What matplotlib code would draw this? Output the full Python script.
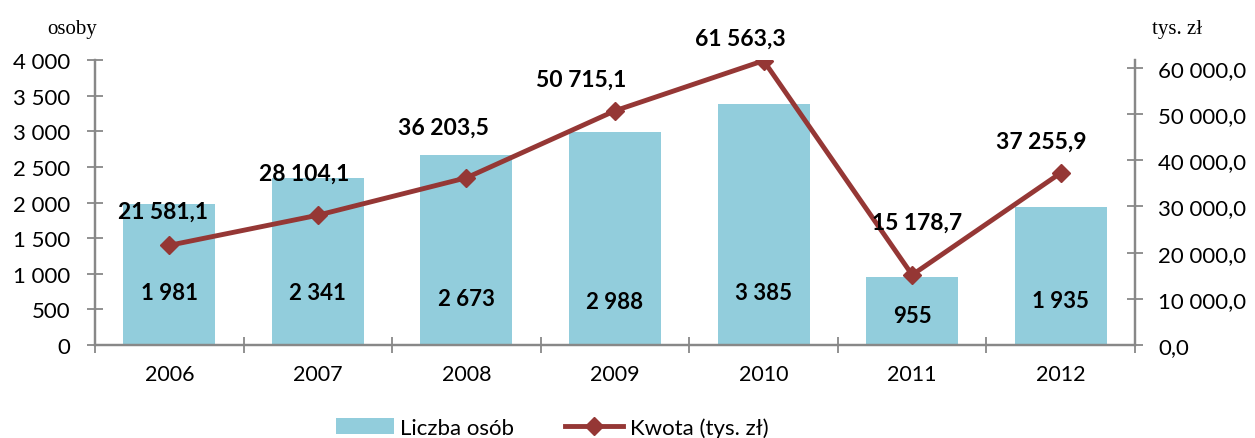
import matplotlib.pyplot as plt
import numpy as np

lata = ['2006', '2007', '2008', '2009', '2010', '2011', '2012']
osoby = [1981, 2341, 2673, 2988, 3385, 955, 1935]
kwota = [21581.1, 28104.1, 36203.5, 50715.1, 61563.3, 15178.7, 37255.9]
osoby_txt = ['1 981', '2 341', '2 673', '2 988', '3 385', '955', '1 935']
kwota_txt = ['21 581,1', '28 104,1', '36 203,5', '50 715,1', '61 563,3', '15 178,7', '37 255,9']

# label placement (styling only)
bar_lab_y = [744, 744, 646, 604, 744, 421, 618]
line_off_px = [(-6, 34), (-14, 42), (-23, 51), (-34, 32), (-23, 22), (5, 53), (-19, 32)]

bar_col = '#92CDDC'
line_col = '#953735'
grey = '#888888'
font = 'Lato'

fig = plt.figure(figsize=(12.55, 4.39), dpi=100)
ax = fig.add_axes([0.0757, 0.2118, 0.8287, 0.6492])
ax2 = ax.twinx()

x = np.arange(len(lata))
ax.bar(x, osoby, width=0.62, color=bar_col, zorder=2, label='Liczba osób')
for i in range(len(x)):
    ax.text(x[i], bar_lab_y[i], osoby_txt[i], ha='center', va='center',
            fontsize=16, fontweight='bold', family=font, color='black')

ax2.plot(x, kwota, color=line_col, lw=3.5, marker='D', ms=9,
         label='Kwota (tys. zł)', zorder=3)
px = 72 / 100
for i in range(len(x)):
    dx, dy = line_off_px[i]
    ax2.annotate(kwota_txt[i], (x[i], kwota[i]), xytext=(dx * px, dy * px),
                 textcoords='offset points', ha='center', va='center',
                 fontsize=16.5, fontweight='bold', family=font)

ax.set_xlim(-0.5, 6.5)
ax.set_ylim(0, 4000)
ax2.set_ylim(0, 61700)

ax.set_yticks(np.arange(0, 4001, 500))
ax.set_yticklabels([f'{v:,}'.replace(',', ' ') for v in range(0, 4001, 500)])
ax2.set_yticks(np.arange(0, 60001, 10000))
ax2.set_yticklabels([f'{v:,}'.replace(',', ' ') + ',0' for v in range(0, 60001, 10000)])

ax.set_xticks(np.arange(-0.5, 7, 1))
ax.set_xticklabels([])
ax.set_xticks(x, minor=True)
ax.set_xticklabels(lata, minor=True)
ax.tick_params(axis='x', which='minor', length=0, pad=14)
ax.tick_params(axis='x', which='major', direction='inout', length=11, color=grey, width=1.3)
ax.tick_params(axis='y', direction='inout', length=11.5, color=grey, width=1.3, pad=12)
ax2.tick_params(axis='y', direction='inout', length=11.5, color=grey, width=1.3, pad=11)

for a in (ax, ax2):
    a.spines['top'].set_visible(False)
    for s in ('left', 'right', 'bottom'):
        a.spines[s].set_color(grey)
        a.spines[s].set_linewidth(1.6)
    for lab in a.get_yticklabels():
        lab.set_family(font)
        lab.set_fontsize(16)
for lab in ax.get_xticklabels(which='minor'):
    lab.set_family(font)
    lab.set_fontsize(15.5)

fig.text(0.038, 0.923, 'osoby', family='Liberation Serif', fontsize=15, va='baseline')
fig.text(0.918, 0.923, 'tys. zł', family='Liberation Serif', fontsize=15, va='baseline')

h1, l1 = ax.get_legend_handles_labels()
h2, l2 = ax2.get_legend_handles_labels()
fig.legend(h1 + h2, l1 + l2, loc='lower center', bbox_to_anchor=(0.44, -0.045),
           ncol=2, frameon=False, prop={'family': font, 'size': 16},
           handlelength=2.6, columnspacing=2.3, handletextpad=0.3)

fig.savefig('out.png', dpi=100)
